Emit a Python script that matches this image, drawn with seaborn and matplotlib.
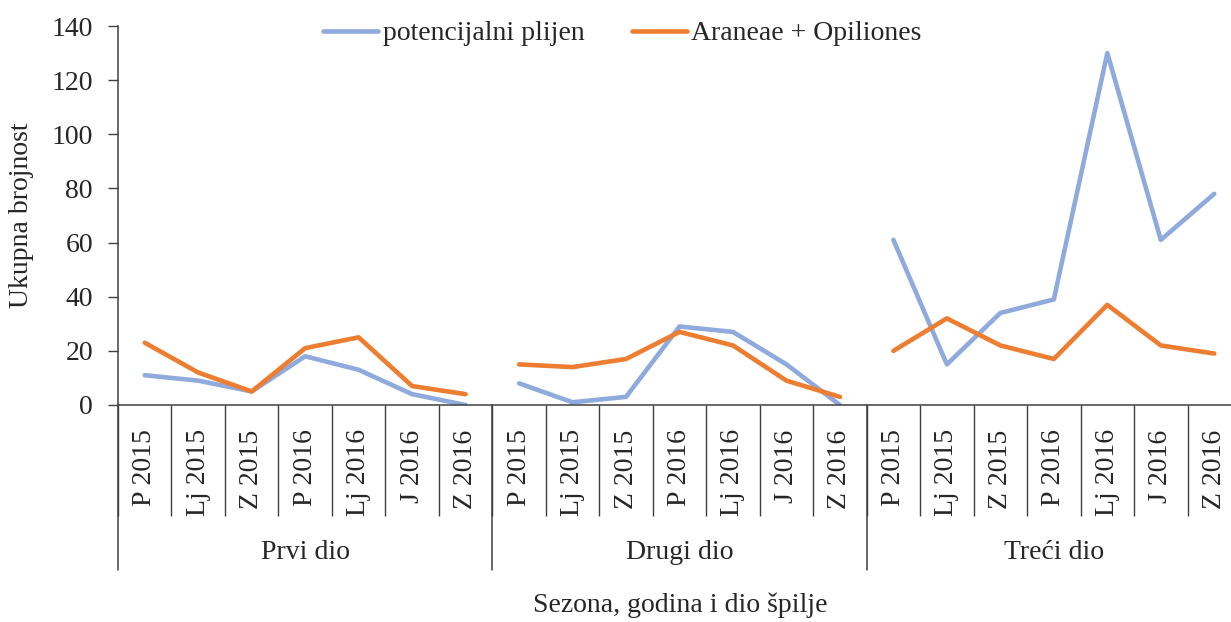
import numpy as np
import pandas as pd
import matplotlib
matplotlib.use("Agg")
import matplotlib.pyplot as plt
import matplotlib.transforms as mtransforms
import seaborn as sns

# data
seasons = ["P 2015", "Lj 2015", "Z 2015", "P 2016", "Lj 2016", "J 2016", "Z 2016"]
parts = ["Prvi dio", "Drugi dio", "Treći dio"]
plijen = [11, 9, 5, 18, 13, 4, 0,
          8, 1, 3, 29, 27, 15, 0,
          61, 15, 34, 39, 130, 61, 78]
araneae = [23, 12, 5, 21, 25, 7, 4,
           15, 14, 17, 27, 22, 9, 3,
           20, 32, 22, 17, 37, 22, 19]
series_names = ["potencijalni plijen", "Araneae + Opiliones"]
colors = ["#8FAADC", "#ED7D31"]

n = len(seasons)
pos = np.arange(n * len(parts))
group = np.repeat(parts, n)
df = pd.concat([
    pd.DataFrame({"pos": pos, "value": plijen, "serija": series_names[0], "dio": group}),
    pd.DataFrame({"pos": pos, "value": araneae, "serija": series_names[1], "dio": group}),
])

sns.set_style("white")
plt.rcParams["font.family"] = ["Liberation Serif", "DejaVu Serif"]
axis_col = "#404040"
fs = 20

fig = plt.figure(figsize=(12.31, 6.22), dpi=100)
ax = fig.add_axes([118 / 1231, 1 - 405 / 622, 1123 / 1231, 379 / 622])

sns.lineplot(data=df, x="pos", y="value", hue="serija", units="dio", estimator=None,
             palette=colors, linewidth=3.3, ax=ax, legend=True)

ax.set_xlim(-0.5, len(pos) - 0.5)
ax.set_ylim(0, 140)
ax.set_yticks(np.arange(0, 141, 20))
ax.tick_params(axis="y", left=True, labelsize=fs, length=7, width=1, color=axis_col, pad=11)

ax.set_xticks(pos, seasons * len(parts), rotation=90)
ax.tick_params(axis="x", which="major", bottom=False, pad=14, labelsize=fs)
ax.set_xticks(np.arange(-0.5, len(pos), 1), minor=True)
ax.tick_params(axis="x", which="minor", bottom=True, length=80, width=1, color=axis_col)

for side in ["top", "right"]:
    ax.spines[side].set_visible(False)
for side in ["left", "bottom"]:
    ax.spines[side].set_color(axis_col)
    ax.spines[side].set_linewidth(1.1)

ax.set_xlabel("")
ax.set_ylabel("")

# group separators and group labels
trans = mtransforms.blended_transform_factory(ax.transData, ax.transAxes)
for b in np.arange(-0.5, len(pos), n):
    ax.plot([b, b], [0, -0.435], transform=trans, clip_on=False, color=axis_col, lw=1.1)
for i, p in enumerate(parts):
    ax.text(i * n + (n - 1) / 2, -0.39, p, transform=trans, ha="center", va="center",
            fontsize=fs)

fig.text(680 / 1231, 1 - 605 / 622, "Sezona, godina i dio špilje", ha="center", va="center",
         fontsize=fs)
fig.text(22 / 1231, 1 - 215 / 622, "Ukupna brojnost", ha="center", va="center",
         rotation=90, fontsize=fs)

handles, labels = ax.get_legend_handles_labels()
ax.legend(handles, labels, loc="center", bbox_to_anchor=(0.449, 0.98), ncol=2,
          frameon=False, fontsize=fs, handlelength=2.0, columnspacing=1.7, handletextpad=0.15)

fig.savefig("out.png", dpi=100)
